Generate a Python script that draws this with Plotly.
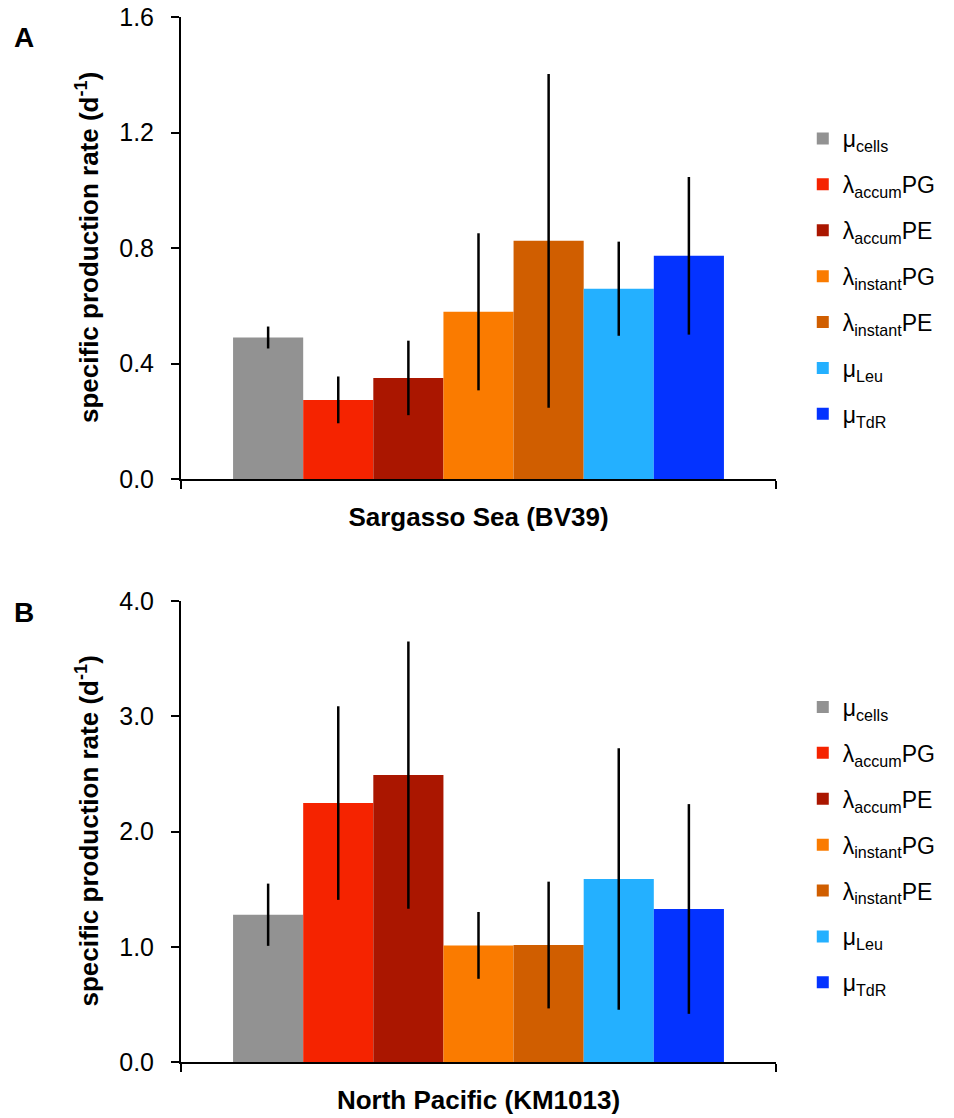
import plotly.graph_objects as go
from plotly.subplots import make_subplots

# Sampling sites (one x category per panel)
sites = ["Sargasso Sea (BV39)", "North Pacific (KM1013)"]
panel_labels = ["A", "B"]

# Rate estimates, in the same order as the legend
series_names = [
    "μ<sub>cells</sub>",
    "λ<sub>accum</sub>PG",
    "λ<sub>accum</sub>PE",
    "λ<sub>instant</sub>PG",
    "λ<sub>instant</sub>PE",
    "μ<sub>Leu</sub>",
    "μ<sub>TdR</sub>",
]
series_colors = ["#929292", "#F52300", "#AA1600", "#FA7B00", "#D05E00", "#24B0FF", "#0433FF"]

# Specific production rates (d-1) and their error bars
sargasso_rates = [0.49, 0.274, 0.35, 0.579, 0.825, 0.659, 0.773]
sargasso_err = [0.038, 0.081, 0.129, 0.272, 0.578, 0.163, 0.273]
pacific_rates = [1.278, 2.247, 2.49, 1.012, 1.015, 1.588, 1.328]
pacific_err = [0.27, 0.84, 1.16, 0.29, 0.55, 1.134, 0.91]

panel_rates = [sargasso_rates, pacific_rates]
panel_err = [sargasso_err, pacific_err]
y_ranges = [[0, 1.6], [0, 4.0]]
y_dticks = [0.4, 1.0]

FONT = "Arial, Liberation Sans, sans-serif"

fig = make_subplots(rows=2, cols=1, vertical_spacing=0.1168)

for p in range(2):
    legend_id = "legend" if p == 0 else "legend2"
    for i, name in enumerate(series_names):
        fig.add_trace(
            go.Bar(
                x=[sites[p]],
                y=[panel_rates[p][i]],
                name=name,
                marker=dict(color=series_colors[i], line=dict(width=0)),
                error_y=dict(type="data", array=[panel_err[p][i]], color="black",
                             thickness=2.5, width=0),
                legend=legend_id,
                legendgroup=f"p{p}_{i}",
            ),
            row=p + 1, col=1,
        )

axis_common = dict(showline=True, linecolor="black", linewidth=2, ticks="outside",
                   ticklen=8, tickwidth=2, tickcolor="black", showgrid=False,
                   zeroline=False, automargin=False)

for p in range(2):
    fig.update_xaxes(
        **axis_common,
        type="category",
        tickson="boundaries",
        tickfont=dict(family=FONT, size=26, color="black", weight="bold"),
        ticklabelstandoff=14,
        row=p + 1, col=1,
    )
    fig.update_yaxes(
        **axis_common,
        range=y_ranges[p],
        dtick=y_dticks[p],
        tickformat=".1f",
        tickfont=dict(family=FONT, size=25, color="black"),
        ticklabelstandoff=12,
        row=p + 1, col=1,
    )

fig.update_layout(yaxis=dict(domain=[0.5579, 1.0]), yaxis2=dict(domain=[0.0, 0.4411]))

ytitle = "specific production rate (d<sup>-1</sup>)"
annotations = []
for p, yref in enumerate(["y domain", "y2 domain"]):
    annotations.append(dict(
        text=ytitle, textangle=-90, xref="paper", x=0, xshift=-93, xanchor="center",
        yref=yref, y=0.5, yanchor="middle", showarrow=False,
        font=dict(family=FONT, size=26, color="black", weight="bold"),
    ))
    annotations.append(dict(
        text=panel_labels[p], xref="paper", x=0, xshift=-157, xanchor="center",
        yref=yref, y=1, yshift=-20 if p == 0 else -11, yanchor="middle", showarrow=False,
        font=dict(family=FONT, size=28, color="black", weight="bold"),
    ))

legend_style = dict(
    font=dict(family=FONT, size=23, color="black"),
    bgcolor="rgba(0,0,0,0)", borderwidth=0, itemwidth=30,
    traceorder="grouped", tracegroupgap=13,
    xanchor="left", yanchor="top", itemclick=False, itemdoubleclick=False,
)

fig.update_layout(
    template="none",
    width=954, height=1118,
    margin=dict(l=181, r=178, t=17, b=56),
    paper_bgcolor="white", plot_bgcolor="white",
    barmode="group", bargap=0.175, bargroupgap=0,
    annotations=annotations,
    legend=dict(**legend_style, x=1.045, y=0.9043),
    legend2=dict(**legend_style, x=1.045, y=0.3603),
    font=dict(family=FONT, color="black"),
    showlegend=True,
)

fig.write_html("out.html")
